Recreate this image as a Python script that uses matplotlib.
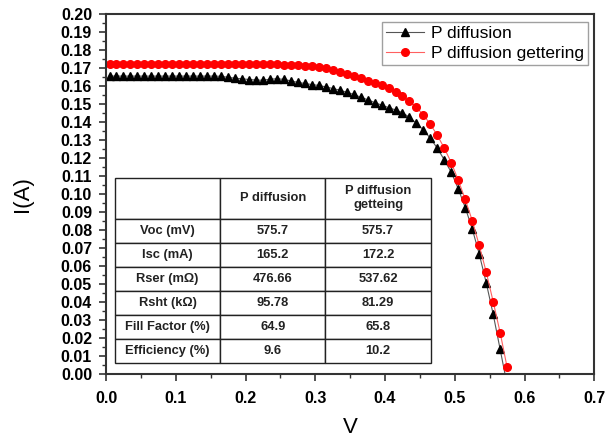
import matplotlib
matplotlib.use("Agg")
import matplotlib.pyplot as plt
from matplotlib.ticker import MultipleLocator

plt.rcParams['font.family'] = ['Liberation Sans', 'DejaVu Sans']

# Voltage points (V)
v_diff = [0.005, 0.015, 0.025, 0.035, 0.045, 0.055, 0.065, 0.075, 0.085, 0.095,
          0.105, 0.115, 0.125, 0.135, 0.145, 0.155, 0.165, 0.175, 0.185, 0.195,
          0.205, 0.215, 0.225, 0.235, 0.245, 0.255, 0.265, 0.275, 0.285, 0.295,
          0.305, 0.315, 0.325, 0.335, 0.345, 0.355, 0.365, 0.375, 0.385, 0.395,
          0.405, 0.415, 0.425, 0.435, 0.445, 0.455, 0.465, 0.475, 0.485, 0.495,
          0.505, 0.515, 0.525, 0.535, 0.545, 0.555, 0.565, 0.575]
i_diff = [0.1655, 0.1655, 0.1655, 0.1655, 0.1655, 0.1655, 0.1655, 0.1655, 0.1655, 0.1655,
          0.1655, 0.1655, 0.1655, 0.1655, 0.1655, 0.1655, 0.1654, 0.1648, 0.1643, 0.1640,
          0.1636, 0.1633, 0.1632, 0.1638, 0.1640, 0.1637, 0.1628, 0.1620, 0.1614, 0.1608,
          0.1603, 0.1595, 0.1586, 0.1577, 0.1565, 0.1553, 0.1538, 0.1524, 0.1508, 0.1494,
          0.1480, 0.1467, 0.1452, 0.1426, 0.1393, 0.1356, 0.1309, 0.1254, 0.1189, 0.1120,
          0.1028, 0.0924, 0.0806, 0.0667, 0.0507, 0.0332, 0.0137, -0.0060]

v_get = [0.005, 0.015, 0.025, 0.035, 0.045, 0.055, 0.065, 0.075, 0.085, 0.095,
         0.105, 0.115, 0.125, 0.135, 0.145, 0.155, 0.165, 0.175, 0.185, 0.195,
         0.205, 0.215, 0.225, 0.235, 0.245, 0.255, 0.265, 0.275, 0.285, 0.295,
         0.305, 0.315, 0.325, 0.335, 0.345, 0.355, 0.365, 0.375, 0.385, 0.395,
         0.405, 0.415, 0.425, 0.435, 0.445, 0.455, 0.465, 0.475, 0.485, 0.495,
         0.505, 0.515, 0.525, 0.535, 0.545, 0.555, 0.565, 0.575]
i_get = [0.1722, 0.1722, 0.1722, 0.1722, 0.1722, 0.1722, 0.1722, 0.1722, 0.1722, 0.1722,
         0.1722, 0.1722, 0.1722, 0.1722, 0.1722, 0.1722, 0.1722, 0.1722, 0.1722, 0.1722,
         0.1722, 0.1722, 0.1721, 0.1721, 0.1720, 0.1719, 0.1718, 0.1716, 0.1713, 0.1709,
         0.1704, 0.1698, 0.1690, 0.1680, 0.1668, 0.1656, 0.1643, 0.1628, 0.1618, 0.1605,
         0.1588, 0.1566, 0.1542, 0.1515, 0.1481, 0.1439, 0.1387, 0.1326, 0.1254, 0.1174,
         0.1076, 0.0970, 0.0852, 0.0715, 0.0567, 0.0402, 0.0230, 0.0037]

series_labels = ["P diffusion", "P diffusion gettering"]

table_cols = ["", "P diffusion", "P diffusion\ngetteing"]
table_rows = ["Voc (mV)", "Isc (mA)", "Rser (m\u03a9)", "Rsht (k\u03a9)",
              "Fill Factor (%)", "Efficiency (%)"]
table_diff = ["575.7", "165.2", "476.66", "95.78", "64.9", "9.6"]
table_get = ["575.7", "172.2", "537.62", "81.29", "65.8", "10.2"]

fig = plt.figure(figsize=(6.16, 4.37), dpi=100)
ax = fig.add_axes([0.1721, 0.1442, 0.7927, 0.8238])

ax.plot(v_diff, i_diff, color='#555555', lw=0.8, marker='^', ms=5.5,
        mfc='black', mec='black', label=series_labels[0])
ax.plot(v_get, i_get, color='#ff6060', lw=0.8, marker='o', ms=5.5,
        mfc='#ff0000', mec='#ff0000', label=series_labels[1])

ax.set_xlim(0, 0.7)
ax.set_ylim(0, 0.2)
ax.xaxis.set_major_locator(MultipleLocator(0.1))
ax.xaxis.set_minor_locator(MultipleLocator(0.05))
ax.yaxis.set_major_locator(MultipleLocator(0.01))
ax.yaxis.set_minor_locator(MultipleLocator(0.005))
ax.xaxis.set_major_formatter(matplotlib.ticker.FormatStrFormatter('%.1f'))
ax.yaxis.set_major_formatter(matplotlib.ticker.FormatStrFormatter('%.2f'))
ax.tick_params(which='major', direction='out', length=5, width=1.2, color='#333333',
               labelsize=11.5)
ax.tick_params(axis='x', which='major', pad=7)
ax.tick_params(axis='y', which='major', pad=5)
ax.tick_params(which='minor', direction='out', length=3, width=1.0, color='#333333')
for lab in ax.get_xticklabels() + ax.get_yticklabels():
    lab.set_fontweight('bold')
for s in ax.spines.values():
    s.set_linewidth(1.5)
    s.set_color('#333333')

ax.set_xlabel("V", fontsize=16, labelpad=8)
ax.set_ylabel("I(A)", fontsize=16, labelpad=20)

leg = ax.legend(loc='upper right', bbox_to_anchor=(0.9879, 0.9778), fontsize=12.5,
                frameon=True, fancybox=False, borderpad=0.25, labelspacing=0.25,
                handlelength=2.2, handletextpad=0.4, borderaxespad=0)
leg.get_frame().set_edgecolor('#888888')
leg.get_frame().set_linewidth(1.0)

cell_text = [table_cols[:]] + [[r, a, b] for r, a, b in zip(table_rows, table_diff, table_get)]
tbl = ax.table(cellText=cell_text, cellLoc='center',
               bbox=[0.0184, 0.0297, 0.6465, 0.5139])
tbl.auto_set_font_size(False)
tbl.set_fontsize(9.3)
for (r, c), cell in tbl.get_celld().items():
    cell.set_height(40 if r == 0 else 24)
    cell.set_width(1.0)
    cell.set_linewidth(1.0)
    cell.set_edgecolor('#222222')
    cell.get_text().set_fontweight('bold')
    cell.get_text().set_color('#222222')

fig.savefig("out.png", dpi=100)
